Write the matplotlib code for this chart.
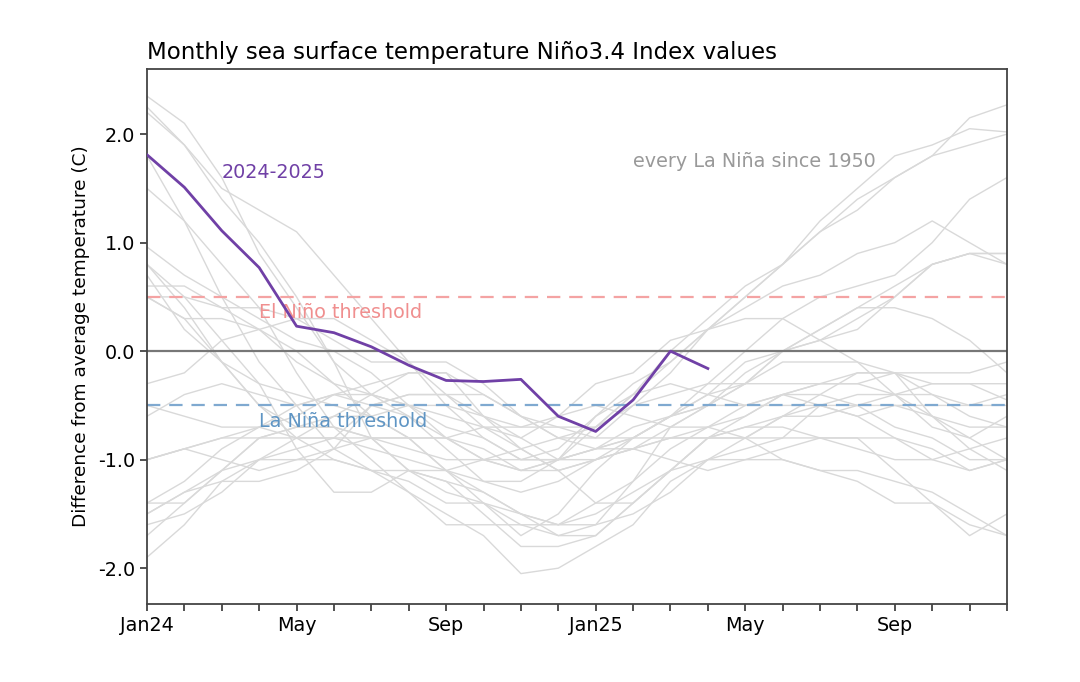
import matplotlib
matplotlib.use("Agg")
import matplotlib.pyplot as plt

plt.rcParams['axes.unicode_minus'] = False
plt.rcParams['font.family'] = ['DejaVu Sans']

months = list(range(24))
tick_positions = [0, 4, 8, 12, 16, 20]
tick_labels = ["Jan24", "May", "Sep", "Jan25", "May", "Sep"]

current = [1.81, 1.51, 1.11, 0.77, 0.23, 0.17, 0.04, -0.13, -0.27, -0.28, -0.26,
           -0.60, -0.74, -0.45, 0.00, -0.16]

# every La Niña since 1950 (two-year windows, Jan..Dec of following year)
lanina = {
    "1950-51": [-1.5, -1.3, -1.2, -1.2, -1.1, -0.9, -0.5, -0.4, -0.4, -0.4, -0.6, -0.8,
                -0.8, -0.5, -0.2, 0.2, 0.4, 0.6, 0.7, 0.9, 1.0, 1.2, 1.0, 0.8],
    "1954-55": [0.5, 0.3, -0.1, -0.5, -0.7, -0.7, -0.8, -1.1, -1.1, -1.0, -1.1, -1.1,
                -1.0, -0.9, -0.8, -0.8, -0.8, -0.8, -0.8, -0.8, -1.1, -1.4, -1.7, -1.5],
    "1955-56": [-1.0, -0.9, -0.8, -0.8, -0.8, -0.8, -0.8, -0.8, -1.1, -1.4, -1.7, -1.5,
                -1.1, -0.8, -0.6, -0.5, -0.5, -0.5, -0.5, -0.6, -0.5, -0.5, -0.5, -0.4],
    "1964-65": [0.8, 0.4, -0.1, -0.5, -0.8, -0.8, -0.9, -1.0, -1.1, -1.2, -1.2, -1.0,
                -0.6, -0.3, -0.1, 0.2, 0.5, 0.8, 1.2, 1.5, 1.8, 1.9, 2.05, 2.02],
    "1970-71": [0.5, 0.3, 0.3, 0.2, 0.0, -0.3, -0.6, -0.8, -0.8, -0.7, -0.9, -1.1,
                -1.4, -1.4, -1.1, -0.8, -0.7, -0.7, -0.8, -0.8, -0.8, -0.9, -1.1, -1.0],
    "1971-72": [-1.4, -1.4, -1.1, -0.8, -0.7, -0.7, -0.8, -0.8, -0.8, -0.9, -1.1, -1.0,
                -0.7, -0.4, 0.0, 0.3, 0.6, 0.8, 1.1, 1.4, 1.6, 1.8, 2.15, 2.27],
    "1973-74": [1.8, 1.2, 0.5, -0.1, -0.5, -0.9, -1.1, -1.3, -1.5, -1.7, -2.05, -2.0,
                -1.8, -1.6, -1.2, -1.0, -0.9, -0.8, -0.5, -0.4, -0.4, -0.6, -0.8, -0.6],
    "1974-75": [-1.9, -1.6, -1.2, -1.0, -0.9, -0.8, -0.5, -0.4, -0.4, -0.6, -0.8, -0.6,
                -0.5, -0.6, -0.7, -0.7, -0.8, -1.0, -1.1, -1.2, -1.4, -1.4, -1.6, -1.7],
    "1975-76": [-0.5, -0.6, -0.7, -0.7, -0.8, -1.0, -1.1, -1.2, -1.4, -1.4, -1.6, -1.7,
                -1.6, -1.2, -0.7, -0.5, -0.3, 0.0, 0.2, 0.4, 0.6, 0.8, 0.9, 0.9],
    "1983-84": [2.25, 1.9, 1.5, 1.3, 1.1, 0.7, 0.3, -0.1, -0.5, -0.8, -1.0, -0.9,
                -0.6, -0.4, -0.3, -0.4, -0.5, -0.4, -0.3, -0.2, -0.2, -0.6, -0.9, -1.1],
    "1984-85": [-0.6, -0.4, -0.3, -0.4, -0.5, -0.4, -0.3, -0.2, -0.2, -0.6, -0.9, -1.1,
                -1.0, -0.8, -0.8, -0.8, -0.8, -0.6, -0.5, -0.5, -0.4, -0.3, -0.3, -0.45],
    "1988-89": [0.8, 0.5, 0.1, -0.3, -0.9, -1.3, -1.3, -1.1, -1.2, -1.5, -1.8, -1.8,
                -1.7, -1.4, -1.1, -0.8, -0.6, -0.4, -0.3, -0.3, -0.2, -0.2, -0.2, -0.1],
    "1995-96": [0.96, 0.7, 0.5, 0.3, 0.1, 0.0, -0.2, -0.5, -0.8, -1.0, -1.0, -1.0,
                -0.9, -0.8, -0.6, -0.4, -0.3, -0.3, -0.3, -0.3, -0.4, -0.4, -0.5, -0.5],
    "1998-99": [2.2, 1.9, 1.4, 1.0, 0.5, -0.1, -0.8, -1.1, -1.3, -1.4, -1.5, -1.6,
                -1.5, -1.3, -1.1, -1.0, -1.0, -1.0, -1.1, -1.1, -1.2, -1.3, -1.5, -1.7],
    "1999-00": [-1.5, -1.3, -1.1, -1.0, -1.0, -1.0, -1.1, -1.1, -1.2, -1.3, -1.5, -1.7,
                -1.7, -1.4, -1.1, -0.8, -0.7, -0.6, -0.6, -0.5, -0.5, -0.6, -0.7, -0.7],
    "2000-01": [-1.7, -1.4, -1.1, -0.8, -0.7, -0.6, -0.6, -0.5, -0.5, -0.6, -0.7, -0.7,
                -0.7, -0.5, -0.4, -0.3, -0.3, -0.1, -0.1, -0.1, -0.2, -0.3, -0.3, -0.3],
    "2005-06": [0.6, 0.6, 0.4, 0.4, 0.3, 0.1, -0.1, -0.1, -0.1, -0.3, -0.6, -0.8,
                -0.9, -0.8, -0.6, -0.4, -0.1, 0.0, 0.1, 0.3, 0.5, 0.8, 0.9, 0.9],
    "2007-08": [0.7, 0.2, -0.1, -0.3, -0.4, -0.5, -0.6, -0.8, -1.1, -1.3, -1.5, -1.6,
                -1.6, -1.5, -1.3, -1.0, -0.8, -0.6, -0.4, -0.2, -0.2, -0.4, -0.6, -0.7],
    "2008-09": [-1.6, -1.5, -1.3, -1.0, -0.8, -0.6, -0.4, -0.2, -0.2, -0.4, -0.6, -0.7,
                -0.8, -0.8, -0.6, -0.3, 0.0, 0.3, 0.5, 0.6, 0.7, 1.0, 1.4, 1.6],
    "2010-11": [1.5, 1.2, 0.8, 0.4, -0.2, -0.7, -1.0, -1.3, -1.6, -1.6, -1.6, -1.6,
                -1.4, -1.2, -0.9, -0.7, -0.6, -0.4, -0.5, -0.6, -0.8, -1.0, -1.1, -1.0],
    "2011-12": [-1.4, -1.2, -0.9, -0.7, -0.6, -0.4, -0.5, -0.6, -0.8, -1.0, -1.1, -1.0,
                -0.9, -0.7, -0.6, -0.5, -0.3, 0.0, 0.2, 0.4, 0.4, 0.3, 0.1, -0.2],
    "2016-17": [2.35, 2.1, 1.6, 0.9, 0.4, -0.1, -0.4, -0.5, -0.6, -0.7, -0.7, -0.6,
                -0.3, -0.2, 0.1, 0.2, 0.3, 0.3, 0.1, -0.1, -0.4, -0.7, -0.8, -1.0],
    "2017-18": [-0.3, -0.2, 0.1, 0.2, 0.3, 0.3, 0.1, -0.1, -0.4, -0.7, -0.8, -1.0,
                -0.9, -0.9, -0.7, -0.5, -0.2, 0.0, 0.1, 0.2, 0.5, 0.8, 0.9, 0.8],
    "2020-21": [0.5, 0.5, 0.4, 0.2, -0.1, -0.3, -0.4, -0.6, -0.9, -1.2, -1.3, -1.2,
                -1.0, -0.9, -0.8, -0.7, -0.5, -0.4, -0.4, -0.5, -0.7, -0.8, -1.0, -1.0],
    "2021-22": [-1.0, -0.9, -0.8, -0.7, -0.5, -0.4, -0.4, -0.5, -0.7, -0.8, -1.0, -1.0,
                -1.0, -0.9, -1.0, -1.1, -1.0, -0.9, -0.8, -0.9, -1.0, -1.0, -0.9, -0.8],
    "2022-23": [-1.0, -0.9, -1.0, -1.1, -1.0, -0.9, -0.8, -0.9, -1.0, -1.0, -0.9, -0.8,
                -0.7, -0.4, -0.1, 0.2, 0.5, 0.8, 1.1, 1.3, 1.6, 1.8, 1.9, 2.0],
}

fig = plt.figure(figsize=(10.8, 6.82), dpi=100)
ax = fig.add_axes([0.1361, 0.1144, 0.7963, 0.7844])

for name, vals in lanina.items():
    ax.plot(months[:len(vals)], vals, color="#d9d9d9", lw=1.0, zorder=1)

ax.axhline(0.0, color="#777777", lw=1.6, zorder=2)
ax.axhline(0.5, color="#f4a3a3", lw=1.6, ls=(0, (6, 4)), zorder=2)
ax.axhline(-0.5, color="#7fa9d0", lw=1.6, ls=(0, (6, 4)), zorder=2)

ax.plot(months[:len(current)], current, color="#7040a6", lw=2.0, zorder=3)

ann_fs = 13.8
ax.text(2.0, 1.65, "2024-2025", color="#7040a6", fontsize=ann_fs, va="center", ha="left")
ax.text(13.0, 1.75, "every La Niña since 1950", color="#999999", fontsize=ann_fs,
        va="center", ha="left")
ax.text(3.0, 0.36, "El Niño threshold", color="#f08f8f", fontsize=ann_fs,
        va="center", ha="left", zorder=2.5)
ax.text(3.0, -0.65, "La Niña threshold", color="#5f95c4", fontsize=ann_fs,
        va="center", ha="left")

ax.set_xlim(0, 23)
ax.set_ylim(-2.33, 2.6)
ax.set_xticks(months)
ax.set_xticklabels([tick_labels[tick_positions.index(m)] if m in tick_positions else ""
                    for m in months], fontsize=13.8)
ax.set_yticks([2.0, 1.0, 0.0, -1.0, -2.0])
ax.set_yticklabels(["2.0", "1.0", "0.0", "-1.0", "-2.0"], fontsize=13.8)
ax.tick_params(length=5, width=1.2, color="#333333")
for s in ax.spines.values():
    s.set_color("#444444")
    s.set_linewidth(1.3)

ax.set_ylabel("Difference from average temperature (C)", fontsize=13.3, labelpad=6)
ax.set_title("Monthly sea surface temperature Niño3.4 Index values", loc="left",
             fontsize=16.5, pad=7)

fig.savefig("out.png", dpi=100, facecolor="white")
